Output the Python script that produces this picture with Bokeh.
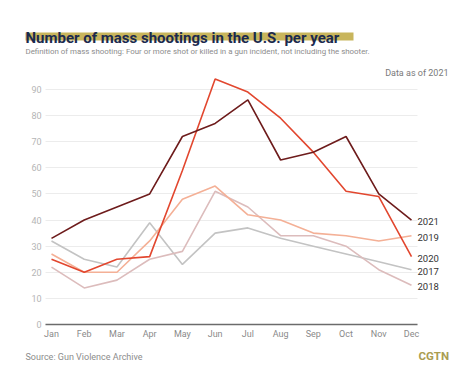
from bokeh.plotting import figure
from bokeh.models import Range1d, Label, BoxAnnotation, FixedTicker
from bokeh.embed import file_html
from bokeh.resources import INLINE

months = ["Jan", "Feb", "Mar", "Apr", "May", "Jun", "Jul", "Aug", "Sep", "Oct", "Nov", "Dec"]
y_ticks = [0, 10, 20, 30, 40, 50, 60, 70, 80, 90]
y2017 = [32, 25, 22, 39, 23, 35, 37, 33, 30, 27, 24, 21]
y2018 = [22, 14, 17, 25, 28, 51, 45, 34, 34, 30, 21, 15]
y2019 = [27, 20, 20, 32, 48, 53, 42, 40, 35, 34, 32, 34]
y2020 = [25, 20, 25, 26, 59, 94, 89, 79, 66, 51, 49, 26]
y2021 = [33, 40, 45, 50, 72, 77, 86, 63, 66, 72, 50, 40]

series = [
    ("2017", y2017, "#c3c3c3"),
    ("2018", y2018, "#dcbcbc"),
    ("2019", y2019, "#f4b096"),
    ("2020", y2020, "#e2472f"),
    ("2021", y2021, "#6e1c1c"),
]
label_offsets = {"2021": -1, "2019": -2, "2020": -2, "2017": -2, "2018": -1}

# canvas geometry (pixels)
W, H = 466, 376
X_JAN, X_DEC = 51, 411       # canvas x of first / last month
Y_ZERO, Y_90 = 324, 89       # canvas y of value 0 / 90
PLOT_L, PLOT_R = 45, 417     # extent of grid / axis line

kx = (X_DEC - X_JAN) / 11.0
ky = (Y_ZERO - Y_90) / 90.0
x0 = -X_JAN / kx
x1 = (W - X_JAN) / kx
y1 = Y_ZERO / ky
y0 = -(H - Y_ZERO) / ky
gx0 = (PLOT_L - X_JAN) / kx
gx1 = (PLOT_R - X_JAN) / kx

p = figure(width=W, height=H, output_backend="svg", toolbar_location=None,
           x_range=Range1d(x0, x1), y_range=Range1d(y0, y1), min_border=0,
           x_axis_location="below", y_axis_location="left")
p.outline_line_color = None
p.background_fill_color = "white"
p.border_fill_color = "white"

xs = list(range(len(months)))
for name, vals, col in series:
    p.line(xs, vals, line_color=col, line_width=1.6)

for name, vals, col in series:
    p.add_layout(Label(x=xs[-1], y=vals[-1], text=name, x_offset=6, y_offset=label_offsets[name],
                       text_baseline="middle", text_align="left", text_font_size="9.5px",
                       text_color="#333333", text_font="Roboto"))

p.xaxis.fixed_location = 0
p.xaxis.bounds = (gx0, gx1)
p.xaxis.ticker = FixedTicker(ticks=xs)
p.xaxis.major_label_overrides = {i: m for i, m in enumerate(months)}
p.xaxis.axis_line_color = "#6b6b6b"
p.xaxis.axis_line_width = 1.5
p.xaxis.major_tick_line_color = None
p.xaxis.major_tick_out = 0
p.xaxis.major_tick_in = 0
p.xaxis.minor_tick_line_color = None
p.xaxis.major_label_text_color = "#8a8a8a"
p.xaxis.major_label_text_font = "Roboto"
p.xaxis.major_label_text_font_size = "9px"
p.xaxis.major_label_standoff = 4

p.yaxis.fixed_location = gx0
p.yaxis.ticker = FixedTicker(ticks=y_ticks)
p.yaxis.axis_line_color = None
p.yaxis.major_tick_line_color = None
p.yaxis.major_tick_out = 0
p.yaxis.major_tick_in = 0
p.yaxis.minor_tick_line_color = None
p.yaxis.major_label_text_color = "#b5b5b5"
p.yaxis.major_label_text_font = "Roboto"
p.yaxis.major_label_text_font_size = "9px"
p.yaxis.major_label_standoff = 4

p.xgrid.grid_line_color = None
p.ygrid.grid_line_color = "#ececec"
p.ygrid.grid_line_width = 1
p.ygrid.cross_bounds = (gx0, gx1)

# header / footer (screen units: x from left, y from bottom of the canvas-wide frame)
def sy(ay):
    return H - ay

p.add_layout(BoxAnnotation(left=25, right=353, top=sy(32), bottom=sy(40),
                           left_units="screen", right_units="screen",
                           top_units="screen", bottom_units="screen",
                           fill_color="#c8b55c", fill_alpha=1, line_color=None, level="underlay"))
p.add_layout(Label(x=25, y=sy(37), x_units="screen", y_units="screen",
                   text="Number of mass shootings in the U.S. per year",
                   text_font="Roboto", text_font_style="bold", text_font_size="15px",
                   text_color="#1b2a4e", text_baseline="alphabetic"))
p.add_layout(Label(x=25, y=sy(51), x_units="screen", y_units="screen",
                   text="Definition of mass shooting: Four or more shot or killed in a gun incident, not including the shooter.",
                   text_font="Roboto", text_font_size="7.9px", text_color="#8c8c8c",
                   text_baseline="middle"))
p.add_layout(Label(x=448, y=sy(72), x_units="screen", y_units="screen",
                   text="Data as of 2021", text_align="right",
                   text_font="Roboto", text_font_size="9px", text_color="#7a7a7a",
                   text_baseline="middle"))
p.add_layout(Label(x=25, y=sy(356), x_units="screen", y_units="screen",
                   text="Source: Gun Violence Archive",
                   text_font="Roboto", text_font_size="9px", text_color="#8c8c8c",
                   text_baseline="middle"))
p.add_layout(Label(x=418, y=sy(355), x_units="screen", y_units="screen",
                   text="CGTN", text_font="Roboto", text_font_style="bold",
                   text_font_size="11.5px", text_color="#aa9d52", text_baseline="middle"))

open("out.html", "w").write(file_html(p, INLINE))
